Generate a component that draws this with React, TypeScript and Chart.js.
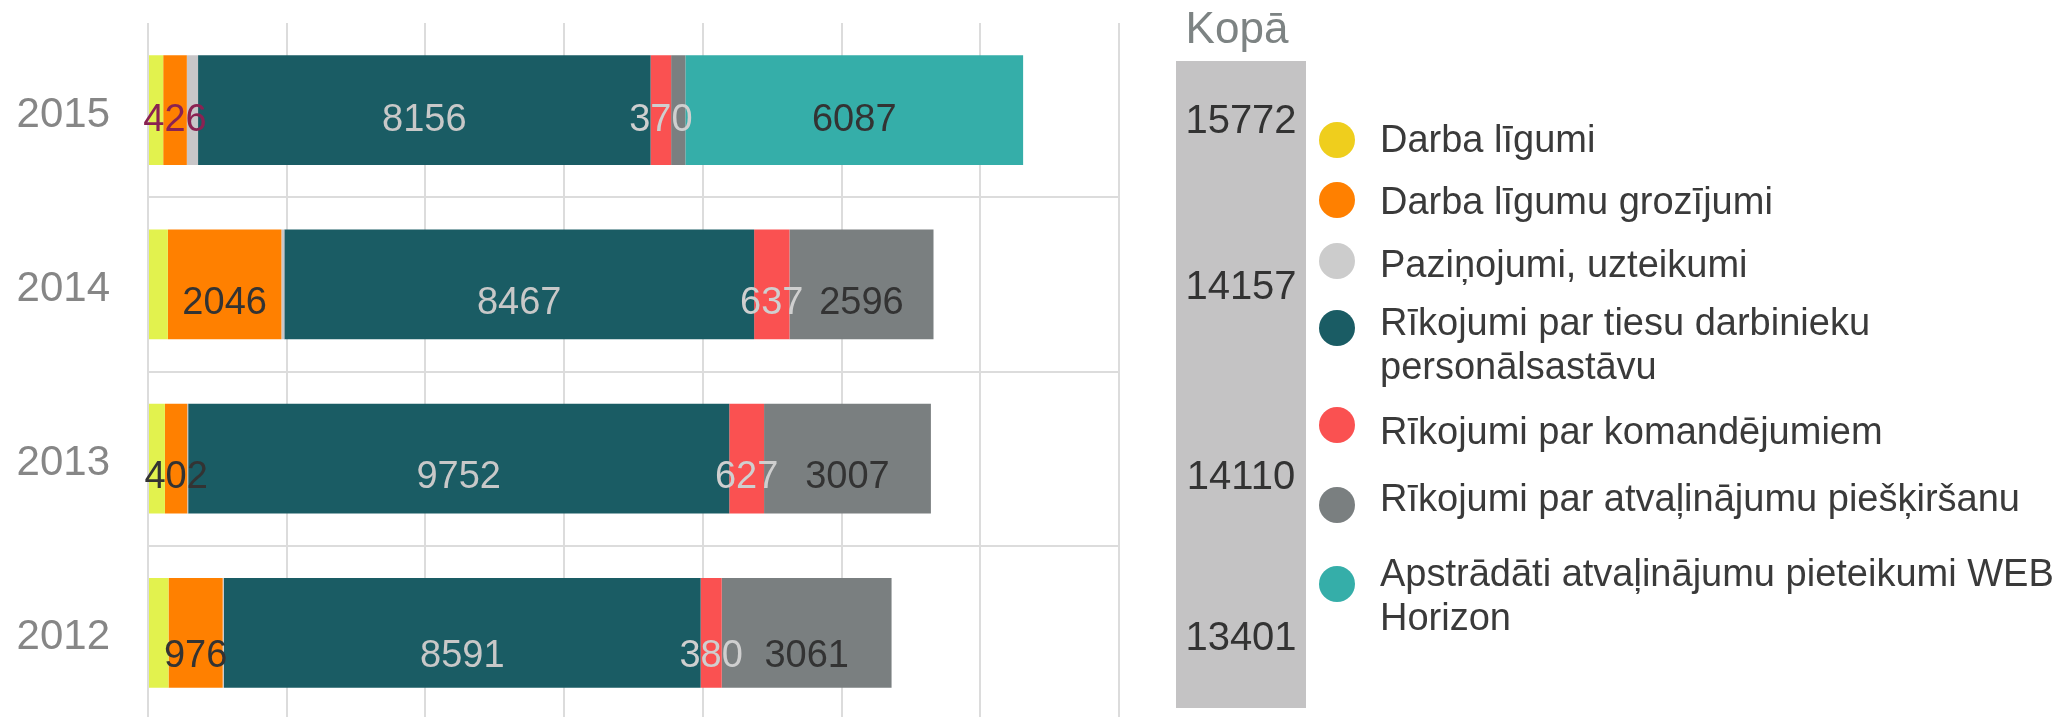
import React, { useEffect, useRef } from 'react';
import { Chart, registerables } from 'chart.js';

Chart.register(...registerables);

// ---- data ----
const years = ['2015', '2014', '2013', '2012'];
const darbaLigumi = [274, 358, 305, 370];
const grozijumi = [426, 2046, 402, 976];
const pazinojumi = [202, 53, 17, 23];
const personalsastavs = [8156, 8467, 9752, 8591];
const komandejumi = [370, 637, 627, 380];
const atvalinajumi = [257, 2596, 3007, 3061];
const webHorizon = [6087, null, null, null];
const totals = [15772, 14157, 14110, 13401];
const seriesNames = [
  'Darba līgumi',
  'Darba līgumu grozījumi',
  'Paziņojumi, uzteikumi',
  'Rīkojumi par tiesu darbinieku personālsastāvu',
  'Rīkojumi par komandējumiem',
  'Rīkojumi par atvaļinājumu piešķiršanu',
  'Apstrādāti atvaļinājumu pieteikumi WEB Horizon',
];
const totalTitle = 'Kopā';
const xMax = 17500;
const xStep = 2500;

// ---- styles ----
const FONT = '"Liberation Sans", Arial, sans-serif';
const barColors = ['#e2f24e', '#ff8000', '#c8c6c8', '#1a5c64', '#fa5151', '#7a7f80', '#35aea9'];
const legendColors = ['#efce1d', '#ff8000', '#cccccc', '#1a5c64', '#fa5151', '#7a7f80', '#35aea9'];
const labelColors: (string[] | null)[] = [
  null,
  ['#8a2252', '#333333', '#333333', '#333333'],
  null,
  ['#c8c8c8', '#c8c8c8', '#c8c8c8', '#c8c8c8'],
  ['#cfcfcf', '#cfcfcf', '#cfcfcf', '#cfcfcf'],
  ['#333333', '#333333', '#333333', '#333333'],
  ['#333333', '#333333', '#333333', '#333333'],
];
const labelShiftY = [7, 16, 16, 21];
const totalShiftY = [9, 0, 16, 3];
const legendGapTop = [0, 18.5, 19, 14, 21, 22.5, 27.5];
const legendDotTop = [5, 3, 1, 10, -2, 11.5, 15.5];
const GRID = '#dcdcdc';
const LABEL_SIZE = 38;
const TOTAL_SIZE = 40;

const labelPlugin = {
  id: 'segmentLabels',
  afterDatasetsDraw(chart: any) {
    const ctx = chart.ctx;
    ctx.save();
    ctx.font = `${LABEL_SIZE}px ${FONT}`;
    ctx.textAlign = 'center';
    ctx.textBaseline = 'alphabetic';
    chart.data.datasets.forEach((ds: any, di: number) => {
      const colors = labelColors[di];
      if (!colors) return;
      const meta = chart.getDatasetMeta(di);
      meta.data.forEach((el: any, i: number) => {
        const v = ds.data[i];
        if (v == null || v < 300) return;
        const cx = (el.x + el.base) / 2;
        const cy = el.y + labelShiftY[i];
        ctx.fillStyle = colors[i];
        ctx.fillText(String(v), cx, cy + LABEL_SIZE * 0.358);
      });
    });
    ctx.restore();
  },
};

const totalsPlugin = {
  id: 'totalsColumn',
  afterDraw(chart: any) {
    const ctx = chart.ctx;
    const area = chart.chartArea;
    const yScale = chart.scales.y;
    const left = area.right + 57;
    const width = 130;
    const top = 61;
    const bottom = 708;
    const cx = left + width / 2;
    ctx.save();
    ctx.fillStyle = '#c4c3c4';
    ctx.fillRect(left, top, width, bottom - top);
    ctx.textAlign = 'center';
    ctx.textBaseline = 'alphabetic';
    ctx.font = `44px ${FONT}`;
    ctx.fillStyle = '#7d8383';
    ctx.fillText(totalTitle, cx - 4, 43);
    ctx.font = `${TOTAL_SIZE}px ${FONT}`;
    ctx.fillStyle = '#333333';
    totals.forEach((t, i) => {
      const y = yScale.getPixelForValue(i) + totalShiftY[i];
      ctx.fillText(String(t), cx, y + TOTAL_SIZE * 0.358);
    });
    ctx.restore();
  },
};

export default function App() {
  const canvasRef = useRef<HTMLCanvasElement | null>(null);

  useEffect(() => {
    const canvas = canvasRef.current;
    if (!canvas) return;
    const seriesData = [darbaLigumi, grozijumi, pazinojumi, personalsastavs, komandejumi, atvalinajumi, webHorizon];
    const chart = new Chart(canvas, {
      type: 'bar',
      data: {
        labels: years,
        datasets: seriesData.map((d, i) => ({
          label: seriesNames[i],
          data: d as any,
          backgroundColor: barColors[i],
          borderWidth: 0,
          barPercentage: 0.63,
          categoryPercentage: 1,
        })),
      },
      options: {
        animation: false,
        responsive: false,
        indexAxis: 'y',
        layout: { padding: { top: 23, right: 936, bottom: 0, left: 0 } },
        plugins: { legend: { display: false }, tooltip: { enabled: false } },
        scales: {
          x: {
            stacked: true,
            min: 0,
            max: xMax,
            ticks: { display: false, stepSize: xStep },
            grid: { color: GRID, lineWidth: 2, drawTicks: false },
            border: { display: false },
            afterFit: (s: any) => {
              s.height = 0;
              s.paddingLeft = 0;
              s.paddingRight = 0;
            },
          },
          y: {
            stacked: true,
            ticks: { color: '#868686', font: { family: FONT, size: 42 }, padding: 38, labelOffset: 5 },
            grid: {
              offset: true,
              drawTicks: false,
              lineWidth: 2,
              color: (c: any) => (c.index === 0 || c.index >= years.length ? 'rgba(0,0,0,0)' : GRID),
            },
            border: { display: false },
            afterFit: (s: any) => {
              s.width = 148;
              s.paddingTop = 0;
              s.paddingBottom = 0;
            },
          },
        },
      } as any,
      plugins: [labelPlugin, totalsPlugin],
    });
    return () => chart.destroy();
  }, []);

  return (
    <div style={{ position: 'fixed', left: 0, top: 0, width: 2055, height: 717, overflow: 'hidden', background: '#fff', fontFamily: FONT }}>
      <canvas ref={canvasRef} width={2055} height={720} style={{ display: 'block', width: 2055, height: 720 }} />
      <div style={{ position: 'absolute', left: 1319, top: 116.5, width: 760 }}>
        {seriesNames.map((name, i) => (
          <div key={name} style={{ display: 'flex', alignItems: 'flex-start', marginTop: legendGapTop[i] }}>
            <div style={{ width: 36, height: 36, borderRadius: 18, background: legendColors[i], marginTop: legendDotTop[i], flex: '0 0 36px' }} />
            <div style={{ marginLeft: 25, width: 700, fontSize: 38, lineHeight: '44px', color: '#3a3a3a' }}>{name}</div>
          </div>
        ))}
      </div>
    </div>
  );
}
